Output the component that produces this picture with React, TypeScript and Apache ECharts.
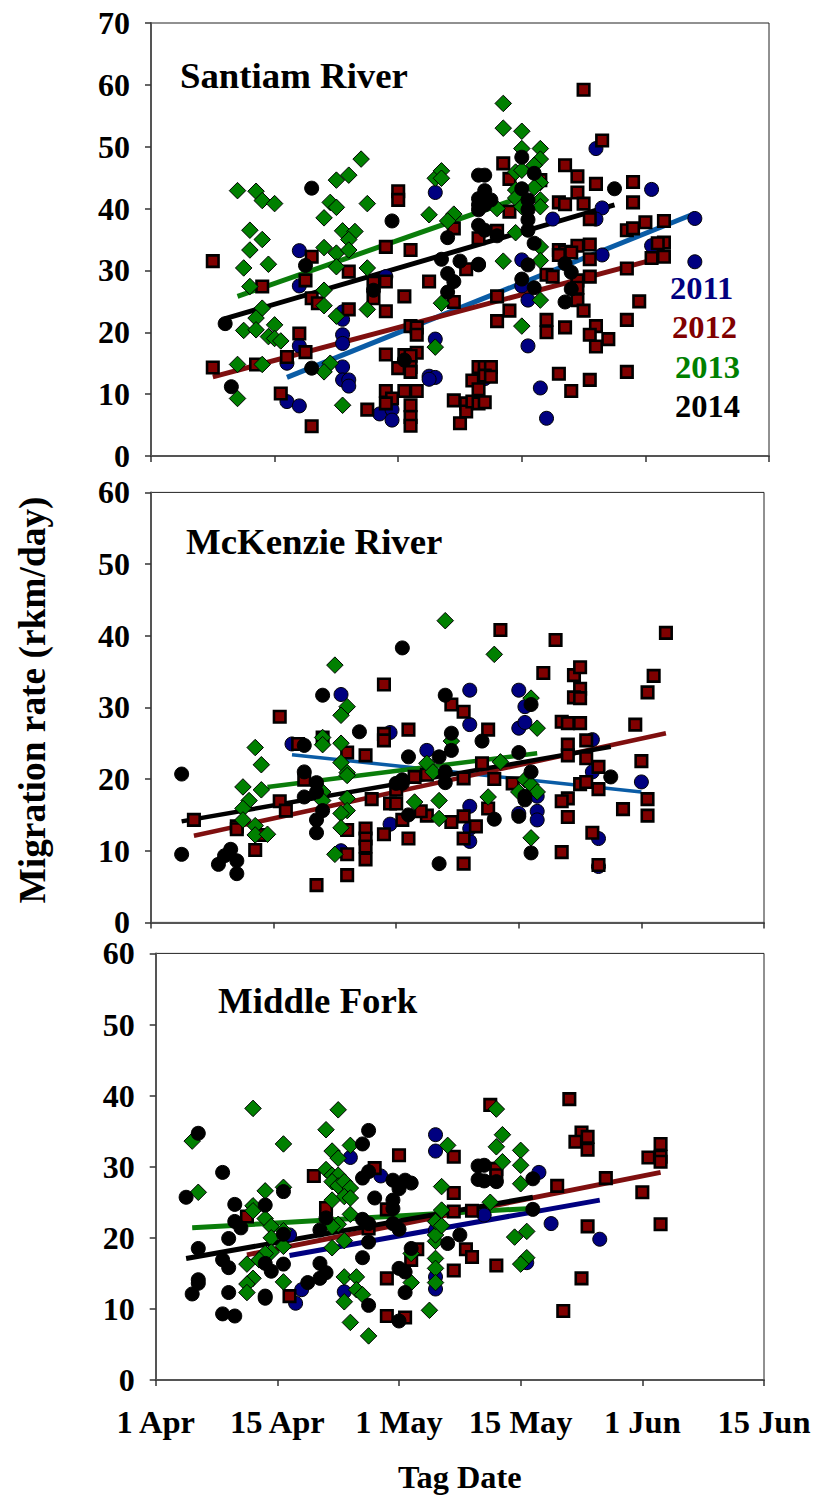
import React, { useEffect, useRef } from "react";
import * as echarts from "echarts";

type P = [number, number];

const xTickLabels = ["1 Apr", "15 Apr", "1 May", "15 May", "1 Jun", "15 Jun"];
const yearLabels = ["2011", "2012", "2013", "2014"];

// Santiam River: [tag day on the 0-100 axis, rkm/day]
const santiam2011: P[] = [[46,42.6],[24,33.2],[24,27.5],[31,23.3],[31,22.1],[31,19.6],[31,18.2],[24,17.8],[22,15],[31,14.4],[31,12.3],[32,12.3],[32,11.3],[22,8.8],[24,8.1],[46,18.9],[45,12.9],[46,12.7],[45,12.4],[37,6.8],[39,7.5],[39,5.8],[38,29],[72,49.7],[81,43.1],[88,38.4],[73,40.1],[65,38.3],[72,38.3],[81,34],[60,31.7],[60,27.5],[61,25.2],[61,17.8],[63,11],[64,6.1],[88,31.4],[73,32.5],[54,12.5]];
const santiam2012: P[] = [[40,42.8],[40,41.4],[49,36.8],[38,33.8],[42,33.3],[10,31.5],[18,27.4],[26,32.2],[25,28.4],[32,29.8],[36,28],[38,28.2],[45,28.2],[26,25.5],[27,24.7],[36,25.5],[32,23.7],[38,23.4],[41,25.8],[49,24.9],[51,30.2],[42,21],[43,20.8],[43,19.6],[24,19.8],[25,16.8],[22,16],[10,14.3],[17,14.8],[38,16.4],[43,16.7],[41,16.3],[42,16.2],[40,14.2],[42,14.4],[42,13.6],[21,10.1],[26,4.8],[38,10.5],[39,9.3],[38,8.5],[41,10.5],[43,10.5],[42,8.2],[42,6.3],[42,4.9],[35,7.5],[49,9],[50,5.3],[51,8.5],[51,7.2],[52,12.2],[52,8.8],[53,8.5],[53,14.4],[70,59.2],[73,51],[67,47],[57,47.3],[69,45.2],[58,44.8],[72,44],[78,44.3],[69,42.6],[66,41],[67,40.7],[70,40.8],[78,41],[71,38.3],[80,37.8],[83,38],[77,36.5],[78,36.8],[58,39.5],[63,44.6],[56,36.4],[53,35.2],[83,34.5],[82,34.4],[69,34],[71,34.2],[66,33.3],[67,33],[66,32.5],[68,32.9],[71,31.8],[81,32],[83,32.2],[77,30.3],[71,29],[64,29.3],[65,29],[69,28.4],[69,27.2],[56,25.8],[69,25.2],[70,23.5],[79,25],[58,23.5],[56,21.8],[64,22],[64,20],[67,20.8],[77,22],[72,21],[71,19.6],[74,18.9],[72,17.7],[54,14.4],[55,14.4],[54,13],[55,12.8],[53,10.8],[54,8.7],[66,13.3],[68,10.5],[71,12.3],[77,13.6]];
const santiam2013: P[] = [[14,42.9],[17,42.8],[18,41.3],[20,40.8],[16,36.5],[18,35],[28,38.5],[30,44.6],[32,45.4],[34,48],[29,41],[30,40.2],[35,40.8],[31,36.4],[33,36.3],[32,35],[28,33.7],[30,32.8],[32,33.3],[16,33.3],[45,39],[49,39.1],[48,38],[46,44.9],[47,46.1],[47,44.9],[15,30.4],[19,31],[30,30.6],[35,30.4],[16,27.4],[28,26.8],[28,24.3],[35,23.7],[30,22.6],[18,23.9],[17,22.3],[15,20.3],[17,20.4],[20,21.2],[19,19.3],[20,19],[21,18.6],[14,14.8],[18,14.8],[29,15],[28,13.6],[14,9.3],[31,8.2],[46,17.6],[47,24.7],[57,57],[57,53],[60,52.5],[60,49.7],[63,49.7],[63,48],[62,47],[59,45.9],[60,46.2],[63,44.2],[62,43.4],[59,43],[59,41.7],[63,41.4],[63,40.3],[60,40.3],[56,40],[59,36.1],[63,33.8],[57,31.5],[63,31.6],[63,25.2],[60,21]];
const santiam2014: P[] = [[26,43.3],[39,38],[48,35.3],[53,45.4],[25,30.8],[12,21.4],[26,14.2],[13,11.2],[36,26.8],[41,15.5],[47,31.8],[50,31.5],[48,29.5],[49,28.2],[48,26.5],[53,30.9],[60,48.3],[62,45.7],[54,45.4],[54,42.9],[60,43.2],[61,41.4],[53,41.6],[55,41.4],[53,40.6],[54,40.6],[53,39.8],[61,39.8],[61,38.2],[61,36.5],[53,37.3],[54,36.5],[56,35.6],[62,34.4],[75,43.2],[67,31.1],[68,29.7],[61,30.9],[60,28.6],[62,27.2],[68,27],[67,24.9],[53,31]];

// McKenzie River
const mckenzie2011: P[] = [[23,24.9],[31,31.8],[39,26.5],[45,24],[52,32.4],[52,27.6],[52,16.2],[52,11.3],[39,13.7],[31,10],[52,13.1],[60,32.4],[61,30.1],[60,27.1],[61,27.9],[72,25.5],[72,21],[80,19.6],[63,17.6],[63,15.5],[63,14.3],[60,15.2],[73,11.7],[73,7.8]];
const mckenzie2012: P[] = [[7,14.3],[14,13.4],[14,13],[17,10.1],[18,12.2],[21,16.9],[22,15.6],[21,28.7],[24,24.9],[25,19.9],[28,25.8],[32,23.7],[35,23.3],[32,12.9],[32,9.5],[32,6.6],[27,5.2],[35,13.1],[35,11.7],[35,10.6],[35,8.8],[36,17.2],[38,33.2],[38,26.3],[38,25.4],[39,16.6],[40,16.6],[40,18.5],[42,26.9],[41,14.3],[42,11.7],[38,12.3],[45,14.9],[44,15.5],[49,30.4],[51,29.4],[51,20.1],[51,14.8],[51,11.7],[51,8.2],[49,14],[53,13.4],[43,20.3],[45,20.6],[57,40.8],[66,39.4],[84,40.4],[64,34.8],[69,34.5],[70,35.6],[82,34.4],[70,32.6],[69,31.4],[70,31.3],[81,32.1],[55,26.9],[67,28],[68,27.8],[70,27.8],[79,27.6],[71,25.4],[68,24.8],[68,23.3],[71,22.9],[73,21.7],[80,22.5],[54,22.2],[56,20],[59,19.4],[70,19.3],[71,19.6],[73,18.6],[81,17.2],[68,17.3],[67,16.9],[77,15.8],[81,14.9],[68,14.7],[55,15.9],[72,12.5],[67,9.8],[73,8]];
const mckenzie2013: P[] = [[17,24.4],[18,22],[15,18.9],[18,18.5],[16,17],[15,15.9],[15,14.3],[17,13.5],[17,12.2],[19,12.3],[28,25.8],[28,24.8],[31,25],[30,35.9],[32,30.1],[31,28.9],[31,22.3],[32,20.9],[32,20.5],[28,18.2],[28,17],[32,17.3],[32,15.6],[31,15.2],[31,13.2],[30,9.5],[43,16.8],[45,22.2],[46,21],[47,17],[47,14.5],[48,42.1],[49,25.3],[56,37.4],[62,31.3],[63,27.1],[57,22.4],[61,19.9],[62,19.2],[60,18.2],[63,18.2],[55,17.5],[62,11.8]];
const mckenzie2014: P[] = [[5,20.7],[5,9.5],[13,10.2],[12,9.3],[11,8.1],[14,8.6],[14,6.8],[25,24.7],[25,21],[27,19.5],[27,18.2],[25,17.5],[28,15.6],[27,14.3],[27,12.5],[28,31.7],[34,26.6],[41,38.3],[42,23.1],[41,19.9],[40,19.4],[41,19.4],[42,15],[48,31.7],[49,26.4],[49,24],[47,23.1],[48,21],[48,19.5],[47,8.2],[54,25.3],[62,30.4],[60,23.7],[62,21],[75,20.3],[61,17.6],[61,17.1],[56,14.4],[60,14.8],[62,9.7]];

// Middle Fork
const middle2011: P[] = [[32,31.3],[37,28.7],[22,20.4],[24,12.7],[23,10.8],[31,12.4],[46,34.5],[46,32.2],[46,21.1],[46,14.5],[46,12.8],[63,29.2],[54,23.2],[65,22],[73,19.8],[61,16.5]];
const middle2012: P[] = [[15,23],[26,28.7],[28,24.2],[36,29.8],[40,31.6],[49,31.4],[49,26.3],[49,23.7],[52,23.8],[38,24],[43,18.4],[42,16.9],[38,14.3],[49,15.4],[51,18.4],[52,17.3],[22,11.8],[38,9],[41,8.8],[35,21.3],[55,38.7],[68,39.5],[70,34.8],[71,34.2],[69,33.5],[71,32.4],[83,33.2],[83,31.4],[81,31.3],[83,30.7],[56,29.7],[56,28.8],[74,28.4],[66,27.3],[80,26.4],[56,16.1],[71,21.6],[83,21.9],[70,14.3],[67,9.7]];
const middle2013: P[] = [[16,38.2],[30,38],[28,35.2],[6,33.6],[21,33.2],[32,33],[29,32.2],[30,31.2],[7,26.4],[18,26.6],[21,27.1],[28,29.6],[29,28.8],[30,28.8],[29,27.9],[30,27.3],[31,27.9],[32,27],[31,25.8],[32,25.6],[29,25.3],[32,23.3],[16,24.5],[16,23.8],[18,22.7],[19,21.6],[21,21],[19,20],[21,18.8],[19,18],[18,17.8],[17,16.9],[15,16.3],[16,14.3],[15,13.5],[15,12.3],[21,13.8],[30,21.9],[29,21.6],[31,19.6],[29,18.6],[31,14.5],[33,14.5],[33,12.7],[34,12],[31,11],[32,8.1],[35,6.2],[42,13.7],[42,17.8],[45,9.8],[46,17.1],[46,15.7],[46,13.7],[46,19.5],[46,20.4],[46,22.3],[47,21.7],[47,23.9],[47,27.2],[48,33],[56,38.1],[57,34.5],[56,32.8],[60,32.3],[57,30.7],[60,30.2],[60,27.6],[55,25],[59,20.1],[61,20.9],[61,17.2],[60,16.3]];
const middle2014: P[] = [[7,34.7],[11,29.2],[5,25.7],[7,18.5],[13,24.7],[13,22.3],[14,21.4],[12,19.9],[11,16.9],[12,15.8],[7,14.1],[7,13.6],[6,12.1],[12,12.3],[11,9.3],[13,9],[18,24.6],[21,26.5],[18,16.4],[19,15.3],[21,16.3],[21,20.5],[18,11.8],[18,11.5],[25,13.7],[27,16.4],[28,15.1],[27,14.3],[27,21.1],[28,22.8],[35,35.1],[34,33.2],[35,29.3],[34,28.4],[36,25.6],[34,22.6],[35,22],[35,19.4],[34,17.2],[35,10.5],[39,28.1],[40,26.9],[41,28.1],[42,27.7],[39,25.3],[39,24.1],[39,22],[40,21.2],[42,18.5],[40,15.7],[41,15.2],[41,12.3],[40,8.3],[48,19.2],[50,20.4],[53,30.1],[53,28.2],[54,30.2],[54,28],[56,27.9],[62,28.3],[62,24]];

// Trend lines: [start, end]
const santiamTrends: P[][] = [[[22,12.7],[88,39.2]],[[10,12.8],[83,32.2]],[[14,25.8],[59,41.5]],[[12,22.2],[75,40.6]]];
const mckenzieTrends: P[][] = [[[23,23.4],[80,18.2]],[[7,12.1],[84,26.4]],[[19,18.9],[63,23.6]],[[5,14.1],[75,24.5]]];
const middleTrends: P[][] = [[[22,17.5],[73,25.3]],[[15,17.6],[83,29.2]],[[6,21.4],[61,24.1]],[[5,17.1],[62,25.7]]];

const SERIF = "'Liberation Serif', 'Times New Roman', serif";
const markColors = ["#000080", "#800000", "#008000", "#000000"];
const legendColors = ["#000080", "#800000", "#008000", "#000000"];

function markerSeries(data: P[], year: number, gridIndex: number) {
  const base: any = {
    type: "scatter",
    xAxisIndex: gridIndex,
    yAxisIndex: gridIndex,
    data,
    z: 3 + year,
    silent: true,
    itemStyle: { color: markColors[year], borderColor: "#000", opacity: 1 },
  };
  if (year === 1) {
    base.symbol = "rect";
    base.symbolSize = 11.5;
    base.itemStyle.borderWidth = 2.6;
  } else if (year === 2) {
    base.symbol = "diamond";
    base.symbolSize = 16.5;
    base.itemStyle.borderWidth = 1;
  } else {
    base.symbol = "circle";
    base.symbolSize = 14;
    base.itemStyle.borderWidth = 1;
  }
  return base;
}

function trendSeries(trends: P[][], colors: string[], gridIndex: number) {
  return trends.map((data, i) => ({
    type: "line",
    xAxisIndex: gridIndex,
    yAxisIndex: gridIndex,
    data,
    symbol: "none",
    silent: true,
    z: 2,
    lineStyle: { color: colors[i], width: gridIndex === 1 ? (i === 0 ? 3.5 : 4.5) : 5, cap: "butt" },
  }));
}

const axisLine = { show: true, onZero: false, lineStyle: { color: "#555", width: 2 } };
const axisTick = { show: true, length: 6, lineStyle: { color: "#333", width: 1.5 } };

function xAxis(gridIndex: number, showLabels: boolean) {
  return {
    type: "value",
    gridIndex,
    min: 0,
    max: 100,
    interval: 20,
    axisLine,
    axisTick,
    splitLine: { show: false },
    axisLabel: {
      show: showLabels,
      margin: 25,
      color: "#000",
      fontFamily: SERIF,
      fontWeight: "bold",
      fontSize: 32.5,
      hideOverlap: false,
      showMinLabel: true,
      showMaxLabel: true,
      formatter: (v: number) => xTickLabels[Math.round(v / 20)],
    },
  };
}

function yAxis(gridIndex: number, max: number) {
  return {
    type: "value",
    gridIndex,
    min: 0,
    max,
    interval: 10,
    axisLine,
    axisTick,
    splitLine: { show: false },
    axisLabel: {
      margin: 21,
      color: "#000",
      fontFamily: SERIF,
      fontWeight: "bold",
      fontSize: 32,
      lineHeight: 26,
      showMinLabel: true,
      showMaxLabel: true,
    },
  };
}

function label(text: string, x: number, y: number, fontSize: number, fill = "#000", extra: any = {}) {
  return {
    type: "text",
    x,
    y,
    silent: true,
    z: 20,
    ...extra,
    style: { text, fill, fontFamily: SERIF, fontWeight: "bold", fontSize, textAlign: "left", textVerticalAlign: "middle", ...(extra.style || {}) },
  };
}

export default function App() {
  const ref = useRef<HTMLDivElement>(null);
  useEffect(() => {
    document.body.style.margin = "0";
    const chart = echarts.init(ref.current!, undefined, { renderer: "svg" });
    const frame = { show: true, borderColor: "#222", borderWidth: 1, backgroundColor: "#fff" };
    const blueLine = "#0a5ca6";
    const trendColorsA = [blueLine, "#7f0f0f", "#0a7d0a", "#000"];
    const trendColorsB = ["#000080", "#7f0f0f", "#0a7d0a", "#000"];
    const panels: [P[], P[], P[], P[]][] = [
      [santiam2011, santiam2012, santiam2013, santiam2014],
      [mckenzie2011, mckenzie2012, mckenzie2013, mckenzie2014],
      [middle2011, middle2012, middle2013, middle2014],
    ];
    const series: any[] = [
      ...trendSeries(santiamTrends, trendColorsA, 0),
      ...trendSeries(mckenzieTrends, trendColorsA, 1),
      ...trendSeries(middleTrends, trendColorsB, 2),
    ];
    panels.forEach((panel, g) => panel.forEach((d, y) => series.push(markerSeries(d, y, g))));
    chart.setOption({
      animation: false,
      backgroundColor: "#fff",
      grid: [
        { left: 151, top: 23, width: 618, height: 433, ...frame },
        { left: 151, top: 492.4, width: 613, height: 430, ...frame },
        { left: 155.7, top: 953.4, width: 608.3, height: 426.6, ...frame },
      ],
      xAxis: [xAxis(0, false), xAxis(1, false), xAxis(2, true)],
      yAxis: [yAxis(0, 70), yAxis(1, 60), yAxis(2, 60)],
      series,
      graphic: [
        label("Santiam River", 180, 75, 36.8),
        label("McKenzie River", 186, 541, 36.8),
        label("Middle Fork", 218, 1000, 36.8),
        label(yearLabels[0], 670, 288, 32.5, legendColors[0]),
        label(yearLabels[1], 672, 327, 32.5, legendColors[1]),
        label(yearLabels[2], 675, 367, 32.5, legendColors[2]),
        label(yearLabels[3], 675, 406, 32.5, legendColors[3]),
        label("Tag Date", 398, 1477, 32.3),
        label("Migration rate (rkm/day)", 32, 700, 37.4, "#000", {
          rotation: Math.PI / 2,
          style: { textAlign: "center" },
        }),
      ],
    });
    return () => chart.dispose();
  }, []);
  return <div ref={ref} style={{ width: 814, height: 1496 }} />;
}
